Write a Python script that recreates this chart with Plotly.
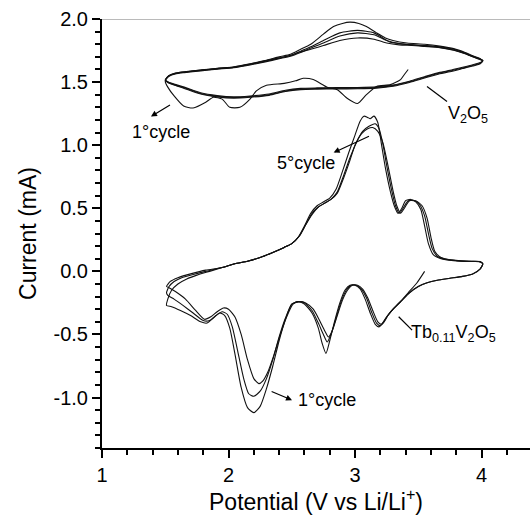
import plotly.graph_objects as go

# ---------------- Tb0.11V2O5 cycles (lower loops) ----------------
tb_c1_x = [3.55, 3.49, 3.42, 3.36, 3.30, 3.25, 3.21, 3.19, 3.16, 3.12, 3.08, 3.04, 3.00, 2.96, 2.92, 2.88, 2.84, 2.80, 2.77, 2.74, 2.71, 2.66, 2.60, 2.55, 2.50, 2.45, 2.40, 2.35, 2.30, 2.25, 2.20, 2.15, 2.10, 2.05, 2.01, 1.97, 1.93, 1.88, 1.83, 1.78, 1.70, 1.62, 1.55, 1.51,
           1.52, 1.55, 1.60, 1.67, 1.75, 1.85, 1.95, 2.05, 2.15, 2.25, 2.35, 2.44, 2.50, 2.55, 2.60, 2.65, 2.70, 2.75, 2.80, 2.85, 2.90, 2.95, 3.00, 3.04, 3.07, 3.10, 3.12, 3.15, 3.18, 3.21, 3.24, 3.28, 3.31, 3.34, 3.37, 3.40, 3.44, 3.48, 3.52, 3.55, 3.58, 3.62, 3.68, 3.78, 3.90, 3.98, 4.01, 3.99]
tb_c1_y = [0.00, -0.09, -0.17, -0.24, -0.30, -0.36, -0.42, -0.44, -0.42, -0.33, -0.22, -0.14, -0.11, -0.11, -0.15, -0.25, -0.39, -0.55, -0.65, -0.57, -0.45, -0.33, -0.26, -0.24, -0.26, -0.38, -0.55, -0.75, -0.93, -1.07, -1.12, -1.08, -0.92, -0.65, -0.45, -0.35, -0.33, -0.37, -0.41, -0.40, -0.35, -0.31, -0.28, -0.27,
           -0.22, -0.15, -0.10, -0.06, -0.03, 0.00, 0.03, 0.06, 0.08, 0.11, 0.15, 0.19, 0.22, 0.27, 0.36, 0.46, 0.52, 0.55, 0.58, 0.65, 0.79, 0.94, 1.08, 1.19, 1.23, 1.22, 1.21, 1.23, 1.18, 1.00, 0.82, 0.63, 0.52, 0.46, 0.50, 0.56, 0.57, 0.55, 0.49, 0.36, 0.22, 0.13, 0.10, 0.085, 0.078, 0.077, 0.06, 0.02]

tb_c2_x = [4.01, 3.99, 3.93, 3.85, 3.75, 3.65, 3.57, 3.50, 3.43, 3.37, 3.31, 3.26, 3.22, 3.20, 3.17, 3.13, 3.09, 3.05, 3.01, 2.97, 2.93, 2.89, 2.85, 2.81, 2.78, 2.75, 2.71, 2.66, 2.60, 2.55, 2.50, 2.45, 2.40, 2.35, 2.30, 2.25, 2.20, 2.16, 2.12, 2.07, 2.03, 1.99, 1.95, 1.90, 1.85, 1.80, 1.72, 1.64, 1.57, 1.52, 1.51,
           1.53, 1.57, 1.63, 1.72, 1.82, 1.95, 2.05, 2.15, 2.25, 2.35, 2.44, 2.50, 2.56, 2.61, 2.66, 2.71, 2.76, 2.81, 2.86, 2.91, 2.96, 3.01, 3.06, 3.11, 3.16, 3.19, 3.22, 3.25, 3.29, 3.32, 3.35, 3.38, 3.42, 3.47, 3.51, 3.55, 3.58, 3.61, 3.65, 3.72, 3.82, 3.92, 3.99, 4.01]
tb_c2_y = [0.06, 0.02, -0.02, -0.04, -0.055, -0.07, -0.09, -0.12, -0.17, -0.23, -0.29, -0.35, -0.41, -0.43, -0.41, -0.32, -0.21, -0.14, -0.11, -0.11, -0.15, -0.24, -0.37, -0.50, -0.56, -0.50, -0.41, -0.31, -0.25, -0.24, -0.26, -0.37, -0.52, -0.70, -0.85, -0.95, -0.99, -0.97, -0.85, -0.62, -0.44, -0.34, -0.32, -0.35, -0.39, -0.39, -0.33, -0.27, -0.22, -0.19, -0.17,
           -0.12, -0.08, -0.05, -0.025, 0.00, 0.03, 0.06, 0.08, 0.11, 0.15, 0.19, 0.22, 0.28, 0.37, 0.46, 0.51, 0.54, 0.57, 0.63, 0.76, 0.90, 1.02, 1.11, 1.15, 1.17, 1.13, 1.01, 0.84, 0.64, 0.52, 0.46, 0.50, 0.56, 0.56, 0.53, 0.44, 0.30, 0.18, 0.12, 0.095, 0.085, 0.08, 0.078, 0.06]

tb_c3_x = [4.01, 3.99, 3.93, 3.85, 3.75, 3.65, 3.57, 3.50, 3.43, 3.37, 3.31, 3.26, 3.23, 3.21, 3.18, 3.14, 3.10, 3.06, 3.02, 2.98, 2.94, 2.90, 2.86, 2.82, 2.79, 2.76, 2.72, 2.67, 2.61, 2.56, 2.51, 2.46, 2.41, 2.36, 2.31, 2.27, 2.24, 2.20, 2.15, 2.10, 2.05, 2.00, 1.96, 1.91, 1.86, 1.81, 1.74, 1.66, 1.58, 1.53, 1.51,
           1.54, 1.60, 1.70, 1.82, 1.95, 2.05, 2.15, 2.25, 2.35, 2.44, 2.50, 2.56, 2.61, 2.66, 2.71, 2.76, 2.81, 2.86, 2.91, 2.96, 3.00, 3.05, 3.10, 3.14, 3.18, 3.22, 3.26, 3.30, 3.33, 3.36, 3.39, 3.43, 3.48, 3.53, 3.57, 3.60, 3.63, 3.68, 3.76, 3.88, 3.98, 4.01]
tb_c3_y = [0.06, 0.02, -0.02, -0.04, -0.055, -0.07, -0.09, -0.12, -0.17, -0.23, -0.29, -0.35, -0.40, -0.42, -0.40, -0.31, -0.21, -0.14, -0.11, -0.11, -0.15, -0.23, -0.35, -0.47, -0.52, -0.47, -0.39, -0.30, -0.25, -0.24, -0.26, -0.36, -0.50, -0.66, -0.80, -0.87, -0.89, -0.85, -0.70, -0.50, -0.36, -0.30, -0.29, -0.32, -0.36, -0.38, -0.31, -0.22, -0.16, -0.13, -0.12,
           -0.08, -0.05, -0.02, 0.01, 0.03, 0.06, 0.08, 0.11, 0.15, 0.19, 0.22, 0.28, 0.37, 0.45, 0.51, 0.54, 0.57, 0.62, 0.74, 0.88, 1.00, 1.09, 1.13, 1.14, 1.11, 1.02, 0.84, 0.64, 0.52, 0.46, 0.50, 0.56, 0.56, 0.52, 0.42, 0.27, 0.16, 0.11, 0.09, 0.08, 0.078, 0.06]

# ---------------- V2O5 cycles (upper loops) ----------------
v_c1_x = [3.42, 3.39, 3.36, 3.28, 3.17, 3.09, 3.02, 2.94, 2.86, 2.78, 2.67, 2.59, 2.53, 2.44, 2.30, 2.22, 2.17, 2.09, 2.01, 1.95, 1.88, 1.82, 1.72, 1.645, 1.57, 1.52, 1.50,
          1.51, 1.53, 1.58, 1.65, 1.78, 1.91, 2.04, 2.17, 2.29, 2.40, 2.49, 2.57, 2.65, 2.75, 2.83, 2.90, 2.96, 3.03, 3.09, 3.17, 3.24, 3.30, 3.41, 3.55, 3.67, 3.78, 3.87, 3.94, 3.99, 4.01]
v_c1_y = [1.60, 1.56, 1.52, 1.48, 1.465, 1.40, 1.33, 1.37, 1.44, 1.46, 1.52, 1.53, 1.51, 1.49, 1.475, 1.43, 1.365, 1.30, 1.30, 1.365, 1.38, 1.34, 1.295, 1.31, 1.39, 1.46, 1.505,
          1.53, 1.55, 1.57, 1.58, 1.595, 1.61, 1.62, 1.645, 1.67, 1.70, 1.72, 1.76, 1.80, 1.88, 1.94, 1.965, 1.975, 1.965, 1.94, 1.89, 1.85, 1.83, 1.81, 1.80, 1.785, 1.765, 1.735, 1.705, 1.685, 1.67]

v_c2_x = [4.01, 3.99, 3.93, 3.85, 3.75, 3.67, 3.55, 3.43, 3.30, 3.17, 3.02, 2.85, 2.70, 2.57, 2.45, 2.32, 2.17, 2.04, 1.91, 1.78, 1.65, 1.57, 1.52, 1.50,
          1.51, 1.53, 1.58, 1.65, 1.78, 1.91, 2.04, 2.17, 2.29, 2.40, 2.49, 2.57, 2.65, 2.75, 2.88, 3.02, 3.15, 3.22, 3.28, 3.40, 3.55, 3.67, 3.78, 3.87, 3.94, 3.99, 4.01]
v_c2_y = [1.67, 1.65, 1.632, 1.612, 1.588, 1.572, 1.538, 1.502, 1.472, 1.457, 1.452, 1.451, 1.449, 1.445, 1.43, 1.40, 1.385, 1.378, 1.388, 1.41, 1.455, 1.48, 1.50, 1.515,
          1.53, 1.55, 1.568, 1.578, 1.592, 1.605, 1.617, 1.64, 1.665, 1.69, 1.71, 1.745, 1.78, 1.83, 1.89, 1.91, 1.89, 1.85, 1.815, 1.80, 1.79, 1.78, 1.76, 1.73, 1.70, 1.682, 1.67]

v_c3_x = [4.01, 3.99, 3.93, 3.85, 3.75, 3.67, 3.55, 3.43, 3.30, 3.17, 3.02, 2.85, 2.70, 2.57, 2.45, 2.32, 2.17, 2.04, 1.91, 1.78, 1.65, 1.57, 1.52, 1.50,
          1.51, 1.53, 1.58, 1.65, 1.78, 1.91, 2.04, 2.17, 2.29, 2.40, 2.49, 2.57, 2.65, 2.75, 2.88, 3.02, 3.15, 3.25, 3.35, 3.45, 3.55, 3.67, 3.78, 3.87, 3.94, 3.99, 4.01]
v_c3_y = [1.67, 1.645, 1.627, 1.607, 1.582, 1.566, 1.532, 1.497, 1.467, 1.452, 1.447, 1.446, 1.444, 1.44, 1.425, 1.395, 1.38, 1.373, 1.383, 1.405, 1.45, 1.477, 1.497, 1.513,
          1.528, 1.547, 1.565, 1.575, 1.589, 1.602, 1.614, 1.636, 1.66, 1.685, 1.705, 1.735, 1.77, 1.81, 1.865, 1.89, 1.875, 1.83, 1.805, 1.795, 1.785, 1.775, 1.755, 1.727, 1.698, 1.68, 1.67]

v_c4_x = [4.01, 3.99, 3.93, 3.85, 3.75, 3.67, 3.55, 3.43, 3.30, 3.17, 3.02, 2.85, 2.70, 2.57, 2.45, 2.32, 2.17, 2.04, 1.91, 1.78, 1.65, 1.57, 1.52, 1.50,
          1.51, 1.53, 1.58, 1.65, 1.78, 1.91, 2.04, 2.17, 2.29, 2.40, 2.49, 2.57, 2.65, 2.75, 2.88, 3.02, 3.15, 3.25, 3.35, 3.45, 3.55, 3.67, 3.78, 3.87, 3.94, 3.99, 4.01]
v_c4_y = [1.67, 1.655, 1.637, 1.617, 1.593, 1.577, 1.543, 1.507, 1.477, 1.462, 1.457, 1.456, 1.454, 1.45, 1.435, 1.405, 1.39, 1.383, 1.393, 1.415, 1.46, 1.484, 1.503, 1.517,
          1.533, 1.553, 1.571, 1.581, 1.596, 1.608, 1.62, 1.643, 1.668, 1.692, 1.712, 1.74, 1.76, 1.79, 1.83, 1.85, 1.84, 1.81, 1.795, 1.79, 1.782, 1.772, 1.752, 1.724, 1.696, 1.678, 1.67]

curves = [
    (tb_c1_x, tb_c1_y), (tb_c2_x, tb_c2_y), (tb_c3_x, tb_c3_y),
    (v_c1_x, v_c1_y), (v_c2_x, v_c2_y), (v_c3_x, v_c3_y), (v_c4_x, v_c4_y),
]

# Axis ticks
x_tickvals = [1, 2, 3, 4]
x_ticktext = ["1", "2", "3", "4"]
y_tickvals = [-1.0, -0.5, 0.0, 0.5, 1.0, 1.5, 2.0]
y_ticktext = ["-1.0", "-0.5", "0.0", "0.5", "1.0", "1.5", "2.0"]

FONT = "Liberation Sans, Arial, Helvetica, sans-serif"

fig = go.Figure()
for cx, cy in curves:
    fig.add_trace(go.Scatter(x=cx, y=cy, mode="lines",
                             line=dict(color="#111111", width=1.1, shape="spline", smoothing=0.6),
                             showlegend=False, hoverinfo="skip"))

# Text labels
labels = [
    (3.896, 1.24, "V<sub>2</sub>O<sub>5</sub>"),
    (3.777, -0.49, "Tb<sub>0.11</sub>V<sub>2</sub>O<sub>5</sub>"),
    (2.615, 0.86, "5°cycle"),
    (1.469, 1.108, "1°cycle"),
    (2.781, -1.02, "1°cycle"),
]
for lx, ly, lt in labels:
    fig.add_annotation(x=lx, y=ly, text=lt, showarrow=False,
                       font=dict(family=FONT, size=18, color="black"))

# Arrows (head, tail)
arrows = [
    (2.831, 0.941, 3.134, 1.082),
    (1.387, 1.227, 1.561, 1.333),
    (2.502, -1.021, 2.317, -0.942),
]
for hx, hy, tx, ty in arrows:
    fig.add_annotation(x=hx, y=hy, ax=tx, ay=ty, xref="x", yref="y", axref="x", ayref="y",
                       text=" ", showarrow=True, arrowhead=2, arrowsize=1, arrowwidth=1.2,
                       arrowcolor="black")

# Leader lines
leaders = [
    (3.569, 1.465, 3.727, 1.346),
    (3.345, -0.36, 3.451, -0.466),
]
for x0, y0, x1, y1 in leaders:
    fig.add_shape(type="line", x0=x0, y0=y0, x1=x1, y1=y1, xref="x", yref="y",
                  line=dict(color="black", width=1.2))

# Top frame line
fig.add_shape(type="line", xref="paper", yref="y", x0=0, x1=1, y0=2.0, y1=2.0,
              line=dict(color="#777777", width=1))

fig.update_layout(
    width=530, height=515,
    margin=dict(l=102, r=0, t=19, b=67),
    paper_bgcolor="white", plot_bgcolor="white",
    font=dict(family=FONT, color="black"),
    xaxis=dict(
        range=[1, 4.383], tickvals=x_tickvals, ticktext=x_ticktext,
        ticks="outside", ticklen=8, tickwidth=1.5, tickcolor="black",
        showline=True, linewidth=2, linecolor="black",
        showgrid=False, zeroline=False, automargin=False,
        tickfont=dict(size=20, family=FONT),
        minor=dict(dtick=0.2, tick0=1, ticks="outside", ticklen=5, tickwidth=1.5, tickcolor="black", showgrid=False),
        title=dict(text="Potential (V vs Li/Li<sup>+</sup>)", font=dict(size=23, family=FONT), standoff=6),
    ),
    yaxis=dict(
        range=[-1.4, 2.0], tickvals=y_tickvals, ticktext=y_ticktext,
        ticks="outside", ticklen=8, tickwidth=1.5, tickcolor="black",
        showline=True, linewidth=2, linecolor="black",
        showgrid=False, zeroline=False, automargin=False,
        tickfont=dict(size=20, family=FONT),
        minor=dict(dtick=0.1, tick0=0, ticks="outside", ticklen=5, tickwidth=1.5, tickcolor="black", showgrid=False),
        title=dict(text="Current (mA)", font=dict(size=23, family=FONT), standoff=10),
    ),
)

fig.write_html("out.html")
